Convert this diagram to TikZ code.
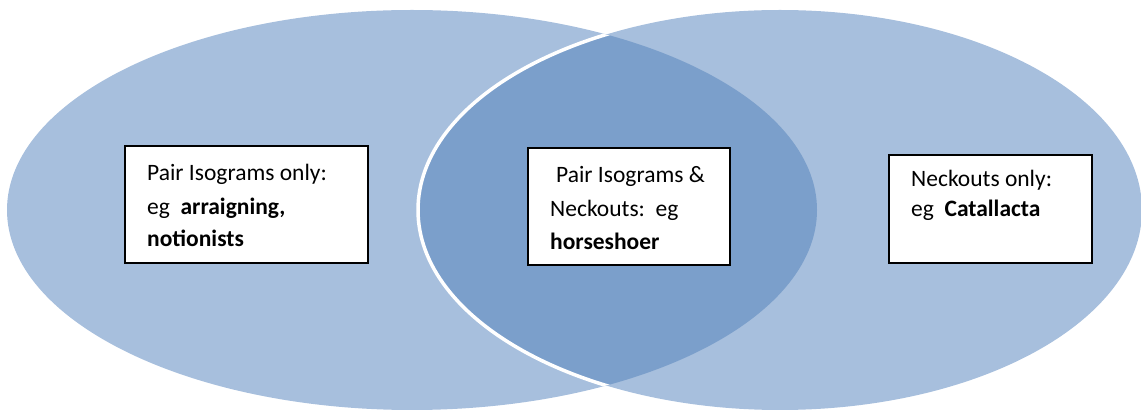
\documentclass[tikz,border=0pt]{standalone}
\usepackage{fontspec}
\setmainfont{Carlito}
\definecolor{vennlight}{RGB}{167,191,221}
\definecolor{venndark}{RGB}{123,159,203}
\tikzset{
  labelbox/.style={draw=black, line width=1.8pt, fill=white, inner sep=0pt},
  labeltext/.style={anchor=base west, inner sep=0pt, font=\fontsize{23.5}{28}\selectfont},
}
\begin{document}
\begin{tikzpicture}[x=1pt, y=-1pt]
  \useasboundingbox (0,0) rectangle (1141,411);
  % the two sets
  \fill[vennlight] (412,210) ellipse [x radius=405, y radius=200];
  \fill[vennlight] (780,210) ellipse [x radius=362, y radius=200];
  % overlap, with the white rim of the right set over the left one
  \begin{scope}
    \clip (412,210) ellipse [x radius=405, y radius=200];
    \fill[venndark] (780,210) ellipse [x radius=362, y radius=200];
    \draw[white, line width=3.5pt] (780,210) ellipse [x radius=362, y radius=200];
  \end{scope}
  % label boxes
  \node[labelbox, minimum width=243pt, minimum height=117pt] (lbox) at (246.5,204.5) {};
  \node[labelbox, minimum width=202pt, minimum height=117pt] (cbox) at (629,206.5) {};
  \node[labelbox, minimum width=203pt, minimum height=108pt] (rbox) at (990.5,209) {};
  % left set text
  \node[labeltext] (l1) at (147,181) {Pair Isograms only:};
  \node[labeltext] (l2) at (147,215) {eg~~\textbf{arraigning,}};
  \node[labeltext] (l3) at (147,247) {\textbf{notionists}};
  % overlap text
  \node[labeltext] (c1) at (556,183) {Pair Isograms \&};
  \node[labeltext] (c2) at (550,217) {Neckouts:~~eg};
  \node[labeltext] (c3) at (550,250) {\textbf{horseshoer}};
  % right set text
  \node[labeltext] (r1) at (911,187) {Neckouts only:};
  \node[labeltext] (r2) at (911,217) {eg~~\textbf{Catallacta}};
\end{tikzpicture}
\end{document}
